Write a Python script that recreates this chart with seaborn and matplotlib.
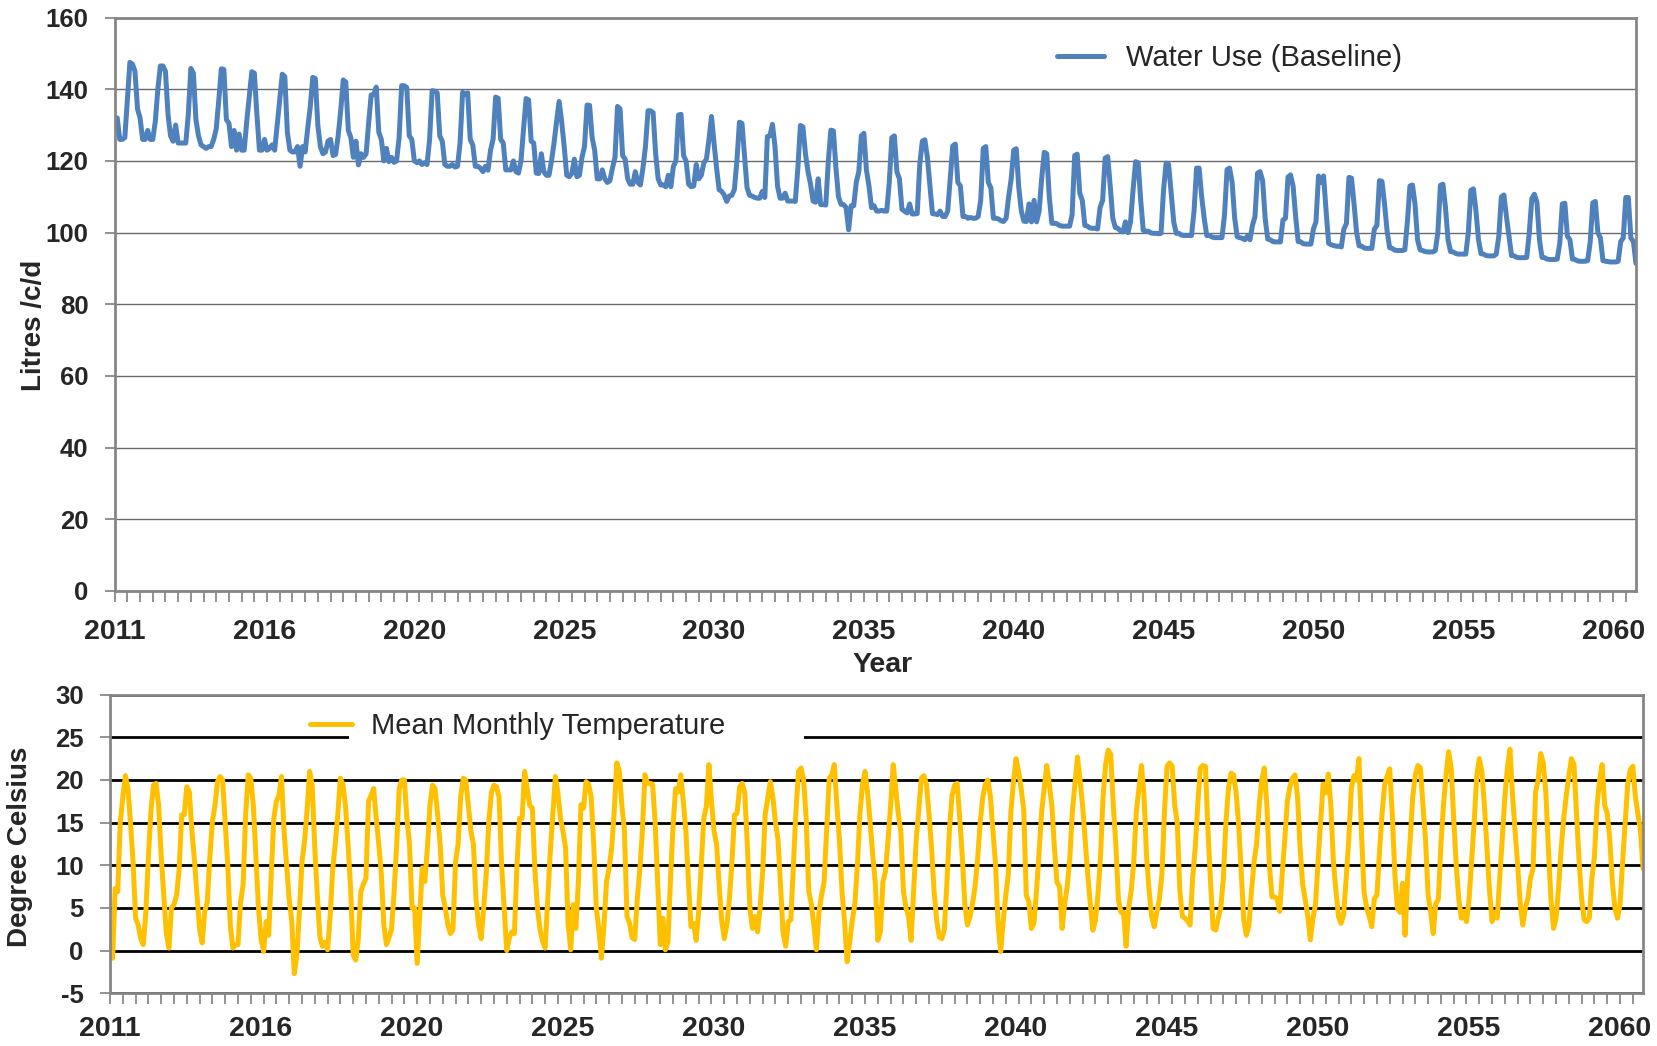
import numpy as np
import pandas as pd
import matplotlib
matplotlib.use('Agg')
import matplotlib.pyplot as plt
from matplotlib.ticker import MultipleLocator, FixedLocator
from matplotlib.patches import Rectangle
import seaborn as sns


# ----------- Data (monthly, one row per year of 12 months) -----------
# Water use, litres per person per day
water_use = [
    [131.5, 132.0, 126.0, 126.0, 126.5, 137.0, 147.5, 147.0, 145.0, 134.5, 132.0, 126.0],
    [126.0, 128.5, 126.0, 126.0, 131.0, 140.0, 146.5, 146.5, 145.0, 133.0, 127.0, 125.5],
    [130.0, 125.0, 125.0, 125.0, 125.0, 133.0, 145.8, 144.5, 131.5, 127.0, 124.5, 124.0],
    [123.5, 124.0, 124.0, 126.0, 129.0, 137.0, 145.7, 145.5, 131.5, 130.5, 124.0, 128.5],
    [123.0, 127.5, 123.0, 123.0, 131.0, 138.0, 144.9, 144.5, 133.0, 123.0, 123.0, 126.0],
    [123.0, 123.5, 124.5, 123.0, 130.0, 137.0, 144.2, 143.5, 128.0, 123.0, 122.5, 122.5],
    [124.0, 118.5, 124.0, 122.5, 129.0, 135.0, 143.3, 143.0, 130.0, 124.0, 122.0, 122.5],
    [125.5, 126.0, 121.5, 121.8, 127.0, 134.0, 142.6, 142.0, 128.5, 126.5, 121.0, 125.5],
    [118.9, 122.0, 121.0, 122.0, 130.5, 138.4, 138.5, 140.6, 128.0, 126.0, 120.0, 123.5],
    [119.8, 121.0, 119.6, 120.0, 126.5, 141.0, 141.0, 140.5, 127.0, 126.0, 120.0, 119.5],
    [120.0, 119.0, 119.5, 119.0, 126.0, 139.6, 139.5, 139.0, 127.0, 125.5, 119.0, 118.5],
    [118.5, 119.0, 118.3, 118.5, 125.0, 139.2, 138.5, 139.0, 126.0, 124.5, 118.5, 118.5],
    [118.0, 117.0, 118.5, 117.4, 123.0, 126.0, 137.8, 137.5, 126.0, 125.0, 117.5, 117.5],
    [117.5, 120.0, 117.0, 116.6, 120.0, 129.0, 137.4, 137.0, 125.5, 125.0, 116.6, 116.5],
    [122.0, 117.0, 116.0, 116.0, 120.0, 125.0, 131.0, 136.6, 131.0, 124.0, 116.0, 115.6],
    [116.5, 120.5, 115.6, 116.0, 121.0, 124.0, 135.6, 135.5, 126.5, 123.0, 115.0, 115.0],
    [117.5, 115.0, 114.0, 114.5, 118.0, 121.0, 135.2, 134.5, 121.5, 120.5, 115.0, 113.5],
    [113.5, 117.0, 114.0, 113.3, 118.0, 124.0, 134.0, 134.0, 133.5, 122.0, 115.0, 113.3],
    [113.3, 112.8, 116.0, 112.8, 118.5, 120.0, 132.8, 133.0, 121.5, 120.0, 113.5, 112.8],
    [113.0, 119.0, 115.0, 116.0, 119.5, 120.5, 126.0, 132.4, 125.0, 118.0, 112.0, 111.5],
    [110.5, 108.7, 110.2, 110.4, 112.0, 120.0, 130.8, 130.5, 121.5, 112.5, 110.4, 110.2],
    [109.8, 109.6, 109.6, 111.5, 109.8, 126.8, 127.0, 130.2, 124.0, 113.0, 109.6, 109.6],
    [111.0, 108.8, 108.8, 108.8, 108.7, 118.0, 129.9, 129.5, 122.0, 117.0, 113.5, 108.8],
    [108.5, 115.0, 107.8, 107.8, 107.7, 120.0, 128.6, 128.4, 118.0, 110.0, 107.9, 107.8],
    [107.0, 100.8, 107.5, 107.5, 114.0, 117.0, 127.0, 127.7, 117.5, 113.0, 107.0, 107.5],
    [106.0, 106.0, 106.2, 106.0, 106.0, 114.0, 126.5, 127.0, 117.0, 115.0, 106.5, 106.0],
    [105.5, 108.0, 105.2, 105.2, 105.3, 119.0, 125.5, 125.9, 121.0, 113.0, 105.3, 105.2],
    [105.0, 106.0, 104.5, 104.5, 106.0, 115.0, 124.2, 124.7, 114.0, 113.0, 104.5, 104.5],
    [104.0, 104.2, 104.0, 104.0, 104.5, 109.0, 123.5, 124.0, 114.0, 112.5, 104.0, 104.0],
    [103.8, 103.3, 103.1, 104.0, 110.0, 115.0, 123.0, 123.4, 112.5, 106.0, 103.2, 103.1],
    [108.0, 103.0, 109.0, 103.0, 106.0, 115.0, 122.4, 122.0, 110.0, 102.6, 102.6, 102.5],
    [102.0, 101.8, 101.8, 101.8, 101.8, 105.0, 121.5, 121.9, 111.0, 109.0, 102.0, 101.8],
    [101.3, 101.2, 101.2, 101.0, 107.0, 109.0, 120.8, 121.2, 113.0, 104.0, 101.4, 101.2],
    [100.5, 100.2, 103.0, 100.0, 103.0, 112.0, 119.8, 119.5, 109.0, 100.6, 100.4, 100.4],
    [99.9, 99.8, 99.8, 99.7, 99.8, 112.0, 119.4, 119.0, 111.0, 103.0, 99.8, 99.8],
    [99.3, 99.2, 99.2, 99.2, 99.2, 106.0, 118.0, 118.0, 110.0, 104.0, 99.2, 99.2],
    [98.8, 98.6, 98.6, 98.6, 98.6, 105.0, 117.6, 118.0, 114.0, 104.0, 98.8, 98.6],
    [98.4, 98.0, 99.0, 98.0, 102.0, 104.5, 116.6, 117.0, 114.5, 104.0, 98.2, 98.0],
    [97.5, 97.4, 97.4, 97.4, 103.5, 104.0, 115.5, 116.1, 113.0, 104.5, 97.5, 97.4],
    [96.9, 96.8, 96.8, 96.8, 101.0, 103.0, 115.8, 114.0, 115.8, 106.0, 97.0, 96.6],
    [96.4, 96.2, 96.2, 96.0, 101.0, 102.5, 115.4, 115.2, 108.0, 100.0, 96.3, 96.2],
    [95.7, 95.6, 95.6, 95.6, 101.0, 102.0, 114.5, 114.3, 108.0, 100.5, 95.8, 95.6],
    [95.1, 95.0, 95.0, 95.0, 95.2, 103.0, 113.0, 113.3, 108.0, 98.0, 95.2, 95.0],
    [94.7, 94.6, 94.6, 94.6, 95.0, 100.0, 113.2, 113.5, 107.0, 98.0, 94.7, 94.6],
    [94.2, 94.0, 94.0, 94.0, 94.0, 100.0, 111.8, 112.2, 106.0, 98.0, 94.1, 94.0],
    [93.6, 93.5, 93.5, 93.5, 94.0, 99.0, 110.0, 110.5, 104.5, 99.0, 93.6, 93.5],
    [93.1, 93.0, 93.0, 93.0, 93.1, 100.0, 109.5, 110.7, 108.5, 98.0, 93.1, 93.0],
    [92.6, 92.5, 92.5, 92.5, 92.6, 97.0, 108.0, 108.2, 99.0, 98.0, 92.6, 92.5],
    [92.1, 92.0, 92.0, 92.0, 92.2, 97.5, 108.3, 108.7, 100.0, 98.5, 92.2, 92.0],
    [91.9, 91.8, 91.8, 91.8, 92.0, 97.5, 98.5, 109.8, 109.8, 98.5, 97.5, 91.4],
]

# Mean monthly temperature, degree Celsius
temperature = [
    [0.9, -0.9, 7.3, 6.9, 15.0, 18.0, 20.5, 19.0, 15.0, 10.4, 3.8, 3.0],
    [1.4, 0.7, 4.5, 11.0, 16.5, 19.4, 19.6, 17.0, 11.0, 6.5, 2.0, 0.3],
    [5.0, 5.4, 6.5, 9.5, 15.9, 15.9, 19.2, 18.6, 14.0, 10.5, 6.5, 2.5],
    [0.9, 4.6, 5.7, 11.0, 15.1, 17.0, 19.8, 20.4, 20.0, 15.0, 10.0, 3.0],
    [0.3, 0.7, 0.7, 5.7, 7.7, 15.9, 20.6, 20.2, 17.0, 11.0, 5.0, 1.4],
    [-0.1, 3.4, 1.8, 9.0, 15.5, 17.5, 18.2, 20.4, 14.0, 10.0, 6.0, 3.5],
    [-2.7, -0.5, 4.6, 10.4, 12.8, 16.5, 21.0, 19.4, 12.0, 6.5, 1.6, 0.5],
    [1.0, 0.1, 4.0, 9.5, 12.5, 16.0, 20.2, 19.5, 17.0, 12.5, 7.3, -0.5],
    [-1.1, 1.4, 6.9, 7.8, 8.5, 17.5, 18.2, 19.0, 15.5, 12.5, 9.0, 3.0],
    [0.7, 1.5, 2.5, 6.9, 12.4, 19.0, 20.0, 20.0, 15.5, 12.5, 5.0, 5.0],
    [-1.5, 4.0, 9.7, 8.1, 12.0, 17.0, 19.4, 19.0, 16.0, 12.4, 6.5, 5.0],
    [3.0, 2.0, 2.5, 10.4, 12.5, 18.0, 20.2, 20.0, 17.0, 14.0, 12.4, 6.0],
    [3.0, 1.4, 5.0, 9.0, 15.1, 18.5, 19.4, 19.2, 18.0, 10.0, 5.0, 0.0],
    [1.5, 2.2, 2.0, 10.0, 15.5, 15.5, 21.0, 19.0, 17.0, 16.7, 9.5, 5.0],
    [2.5, 1.1, 0.3, 6.0, 11.5, 16.0, 20.4, 18.5, 15.5, 14.0, 12.0, 3.0],
    [0.1, 5.4, 2.6, 8.0, 17.1, 16.7, 19.8, 19.5, 18.0, 12.4, 5.0, 2.5],
    [-0.9, 3.0, 8.1, 9.7, 12.0, 16.3, 22.0, 21.0, 17.0, 14.0, 4.0, 3.2],
    [1.5, 1.3, 6.0, 9.5, 14.0, 20.6, 19.6, 19.6, 19.5, 15.0, 8.0, 0.7],
    [3.8, 0.1, 1.0, 8.5, 14.7, 19.0, 18.6, 20.6, 17.5, 14.0, 8.0, 2.8],
    [3.2, 1.2, 4.6, 10.0, 15.5, 16.9, 21.8, 17.5, 14.0, 12.5, 7.7, 3.5],
    [1.4, 3.0, 6.0, 10.4, 15.9, 16.1, 19.2, 19.6, 18.5, 12.4, 5.0, 2.6],
    [4.0, 2.2, 5.0, 9.3, 16.0, 17.9, 19.8, 18.0, 15.0, 13.0, 7.5, 2.0],
    [0.5, 3.4, 3.6, 10.0, 16.3, 21.0, 21.4, 20.0, 15.5, 7.0, 5.5, 3.0],
    [0.1, 4.5, 6.5, 8.0, 14.0, 20.2, 20.6, 21.8, 17.0, 13.0, 6.9, 3.4],
    [-1.3, 1.0, 3.5, 5.4, 10.0, 16.0, 19.5, 21.0, 18.5, 15.0, 11.2, 8.0],
    [1.2, 2.2, 8.1, 9.3, 13.0, 17.0, 21.8, 19.0, 16.0, 13.9, 7.0, 5.0],
    [4.0, 1.2, 7.0, 13.0, 16.5, 20.2, 20.5, 19.5, 16.0, 12.0, 6.9, 3.5],
    [1.6, 1.4, 2.5, 8.0, 14.3, 18.2, 19.4, 19.6, 15.5, 11.0, 5.4, 3.0],
    [4.0, 5.5, 7.5, 10.8, 15.0, 18.0, 19.5, 20.0, 18.0, 14.0, 10.0, 3.0],
    [-0.1, 3.5, 6.5, 9.0, 16.3, 19.8, 22.5, 21.0, 19.0, 16.5, 6.5, 5.7],
    [2.6, 3.2, 7.0, 11.5, 16.3, 19.0, 21.7, 19.5, 17.0, 12.0, 8.0, 7.5],
    [2.6, 5.5, 7.5, 10.8, 16.3, 19.5, 22.7, 20.0, 17.0, 13.0, 9.0, 5.5],
    [2.4, 3.5, 6.5, 11.0, 18.0, 21.8, 23.5, 23.0, 17.0, 12.4, 6.0, 4.5],
    [4.5, 0.5, 5.0, 7.0, 10.4, 16.3, 19.0, 21.7, 18.2, 11.0, 7.0, 4.0],
    [2.8, 4.5, 6.0, 9.0, 16.3, 21.6, 22.0, 21.6, 17.0, 15.0, 7.0, 4.0],
    [3.8, 3.5, 3.0, 8.5, 12.0, 17.1, 21.4, 21.7, 21.6, 14.0, 8.0, 2.6],
    [2.4, 3.8, 5.0, 8.5, 15.0, 19.0, 20.8, 20.6, 18.5, 14.7, 9.0, 3.5],
    [1.8, 3.0, 7.0, 10.4, 12.5, 17.0, 20.0, 21.4, 17.0, 10.0, 6.3, 6.3],
    [6.1, 4.6, 9.0, 13.0, 17.5, 19.2, 20.2, 20.6, 18.0, 12.0, 7.7, 6.0],
    [4.0, 1.25, 3.8, 5.4, 10.4, 15.1, 19.5, 18.5, 20.7, 17.0, 10.4, 7.0],
    [4.0, 3.2, 4.2, 8.5, 13.0, 19.0, 20.5, 20.0, 22.5, 13.5, 6.8, 5.0],
    [4.0, 2.8, 6.1, 6.5, 11.5, 16.0, 19.4, 20.5, 21.3, 16.0, 9.0, 5.0],
    [4.5, 7.9, 1.8, 8.5, 13.0, 18.0, 20.6, 21.7, 21.4, 17.0, 13.0, 6.5],
    [4.6, 2.0, 5.5, 6.0, 12.4, 17.0, 20.5, 23.3, 21.5, 15.5, 10.0, 6.0],
    [3.8, 4.6, 3.4, 6.0, 10.5, 15.0, 20.5, 22.5, 21.0, 17.0, 12.0, 7.0],
    [3.4, 4.5, 3.8, 8.5, 13.0, 18.0, 21.5, 23.6, 18.2, 14.0, 10.0, 5.5],
    [3.0, 5.0, 6.1, 8.5, 9.6, 18.6, 20.0, 23.1, 22.0, 18.5, 12.0, 6.0],
    [2.6, 3.8, 7.5, 12.0, 15.5, 18.2, 20.5, 22.5, 21.8, 16.0, 10.5, 6.0],
    [3.6, 3.4, 3.8, 8.5, 11.0, 17.0, 20.0, 21.8, 17.0, 16.1, 13.0, 8.0],
    [5.0, 3.8, 5.4, 10.4, 15.0, 19.5, 21.2, 21.6, 18.0, 16.0, 14.0, 9.6],
]

year_labels = ['2011', '2016', '2020', '2025', '2030', '2035',
               '2040', '2045', '2050', '2055', '2060']
label_every = 59  # months between year labels on the category axis
tick_every = 5    # months between tick marks

water_color = '#4F81BD'
temp_color = '#FFC000'


# ----------- Build dataframe -----------
df = pd.DataFrame({'water': np.ravel(water_use), 'temp': np.ravel(temperature)})
df['month'] = np.arange(len(df))

sns.set_theme(style='white')
plt.rcParams['font.family'] = ['Liberation Sans', 'DejaVu Sans']

fig = plt.figure(figsize=(16.57, 10.46), dpi=100)
ax1 = fig.add_axes([0.0692, 0.4350, 0.9181, 0.5482])
ax2 = fig.add_axes([0.0664, 0.0504, 0.9252, 0.2855])

sns.lineplot(data=df, x='month', y='water', ax=ax1, color=water_color,
             linewidth=3.6, label='Water Use (Baseline)')
sns.lineplot(data=df, x='month', y='temp', ax=ax2, color=temp_color,
             linewidth=3.6, label='Mean Monthly Temperature')

label_pos = np.arange(len(year_labels)) * label_every

for ax in (ax1, ax2):
    ax.set_xlim(0, len(df) - 1)
    ax.xaxis.set_major_locator(FixedLocator(label_pos))
    ax.xaxis.set_minor_locator(MultipleLocator(tick_every))
    ax.xaxis.remove_overlapping_locs = False
    ax.set_xticklabels(year_labels, fontsize=20.5, fontweight='bold')
    ax.tick_params(axis='x', which='major', length=0, pad=20)
    ax.tick_params(axis='x', which='minor', bottom=True, length=8,
                   width=1.2, color='#7f7f7f', direction='out')
    ax.tick_params(axis='y', which='major', left=True, length=7,
                   width=1.2, color='#7f7f7f', direction='out', pad=12)
    for sp in ax.spines.values():
        sp.set_color('#868686')
        sp.set_linewidth(2)
    ax.set_axisbelow(True)

# ----------- Top chart: water use -----------
ax1.set_ylim(0, 160)
ax1.set_yticks(np.arange(0, 161, 20))
ax1.set_yticklabels([str(v) for v in range(0, 161, 20)], fontsize=18.5, fontweight='bold')
ax1.yaxis.grid(True, color='#6a6a6a', linewidth=1)
ax1.set_xlabel('Year', fontsize=20.5, fontweight='bold')
ax1.xaxis.set_label_coords(0.505, -0.107)
ax1.set_ylabel('Litres /c/d', fontsize=20, fontweight='bold')
ax1.yaxis.set_label_coords(-0.0445, 0.463)
ax1.legend(loc='center left', bbox_to_anchor=(0.638, 0.9446),
           bbox_transform=fig.transFigure, frameon=False, fontsize=21,
           handlelength=1.6, handletextpad=0.75, borderpad=0, borderaxespad=0)

# ----------- Bottom chart: temperature -----------
ax2.set_ylim(-5, 30)
ax2.set_yticks(np.arange(-5, 31, 5))
ax2.set_yticklabels([str(v) for v in range(-5, 31, 5)], fontsize=18.5, fontweight='bold')
ax2.yaxis.grid(True, color='black', linewidth=2)
ax2.tick_params(axis='x', which='major', pad=16)
ax2.set_xlabel('')
ax2.set_ylabel('Degree Celsius', fontsize=20, fontweight='bold')
ax2.yaxis.set_label_coords(-0.050, 0.491)
# white legend area hides part of the 25 gridline
ax2.add_patch(Rectangle((0.156, 0.835), 0.297, 0.045, transform=ax2.transAxes,
                        facecolor='white', edgecolor='none', zorder=1))
ax2.legend(loc='center left', bbox_to_anchor=(0.187, 0.306),
           bbox_transform=fig.transFigure, frameon=False, fontsize=21,
           handlelength=1.45, handletextpad=0.65, borderpad=0, borderaxespad=0)

plt.savefig('out.png', dpi=100)
